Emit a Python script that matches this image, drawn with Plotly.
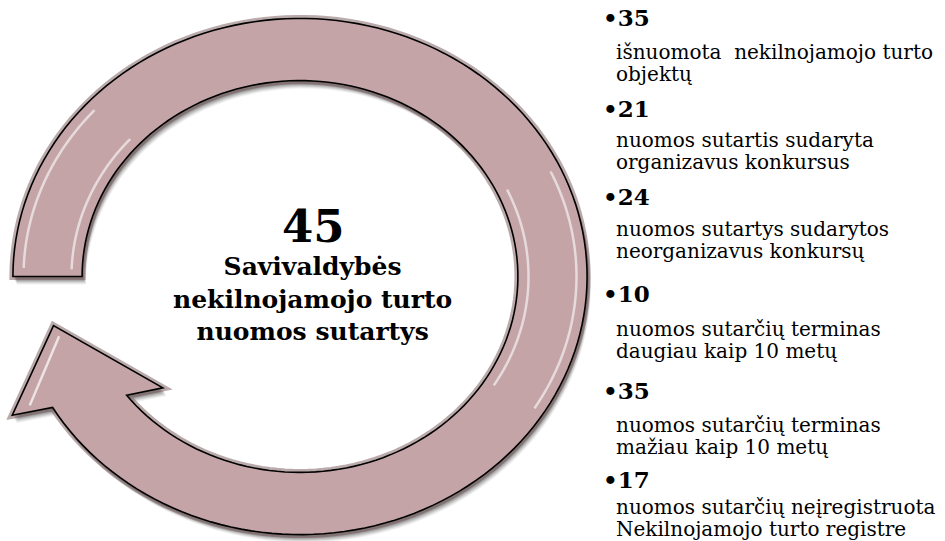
import numpy as np
import plotly.graph_objects as go

# ---------------- data ----------------
total_value = 45
center_lines = ["Savivaldybės", "nekilnojamojo turto", "nuomos sutartys"]
item_values = [35, 21, 24, 10, 35, 17]
item_labels = [
    ["išnuomota\u00a0 nekilnojamojo turto", "objektų"],
    ["nuomos sutartis sudaryta", "organizavus konkursus"],
    ["nuomos sutartys sudarytos", "neorganizavus konkursų"],
    ["nuomos sutarčių terminas", "daugiau kaip 10 metų"],
    ["nuomos sutarčių terminas", "mažiau kaip 10 metų"],
    ["nuomos sutarčių neįregistruota", "Nekilnojamojo turto registre"],
]

# ---------------- layout / style ----------------
W, H = 945, 541
CX, CY = 300.0, 276.5          # ring centre (px)
RX, RY = 252.5, 227.0          # mid-line radii (px)
K_OUT, K_IN = 1.137, 0.863     # outer / inner edge scale
FILL = "#C4A4A7"
SERIF = "DejaVu Serif"

def pt(scale, deg):
    t = np.deg2rad(deg)
    return CX + scale * RX * np.cos(t), CY + scale * RY * np.sin(t)

def arc(scale, a0, a1, n=160):
    a = np.linspace(a0, a1, n)
    return [pt(scale, d) for d in a]

# arrow outline (angles in degrees, screen coords, y downward)
T_TAIL = 180.0
outer = arc(K_OUT, T_TAIL, 509.5)
head = [pt(1.293, 511.8), pt(1.0, 527.5), pt(0.732, 497.9)]
inner = arc(K_IN, 502.7, T_TAIL)
poly = outer + head + inner

def to_path(points, dx=0.0, dy=0.0, close=True):
    s = "M " + " L ".join(f"{x+dx:.2f},{y+dy:.2f}" for x, y in points)
    return s + (" Z" if close else "")

shapes = []
# soft drop shadow
for off, op in [(8, 0.05), (7, 0.07), (6, 0.09), (5, 0.11), (4, 0.13), (3, 0.16)]:
    shapes.append(dict(type="path", path=to_path(poly, off * 0.5, off),
                       xref="x", yref="y", fillcolor=f"rgba(0,0,0,{op})",
                       line=dict(width=0), layer="below"))
# body with slightly darker rim
shapes.append(dict(type="path", path=to_path(poly), xref="x", yref="y",
                   fillcolor=FILL, line=dict(color="rgba(130,100,102,0.55)", width=7),
                   layer="below"))
shapes.append(dict(type="path", path=to_path(poly), xref="x", yref="y",
                   fillcolor=FILL, line=dict(width=0), layer="below"))
shapes.append(dict(type="path", path=to_path(poly), xref="x", yref="y",
                   fillcolor="rgba(0,0,0,0)", line=dict(color="black", width=1.6),
                   layer="below"))
# bevel highlights
for sc in (0.905, 1.095):
    for a0, a1 in [(335, 392), (182, 222)]:
        shapes.append(dict(type="path", path=to_path(arc(sc, a0, a1, 60), close=False),
                           xref="x", yref="y", line=dict(color="rgba(255,255,255,0.6)", width=2.5),
                           layer="below"))
hl = [pt(1.0, 525.0), pt(1.22, 512.5)]
shapes.append(dict(type="path", path=to_path(hl, 3, 1, close=False), xref="x", yref="y",
                   line=dict(color="rgba(255,255,255,0.7)", width=2.5), layer="below"))

annotations = []
# centre text
annotations.append(dict(x=313, y=226, xref="x", yref="y", text=f"<b>{total_value}</b>",
                        showarrow=False, font=dict(family=SERIF, size=45, color="black"),
                        xanchor="center", yanchor="middle"))
annotations.append(dict(x=312, y=299, xref="x", yref="y",
                        text="<br>".join(f"<b>{s}</b>" for s in center_lines),
                        showarrow=False, align="center",
                        font=dict(family=SERIF, size=25, color="black"),
                        xanchor="center", yanchor="middle"))

# right list
bullet_y = [17, 108, 196, 293, 390, 479]
desc_gap = [35, 32, 33, 36, 35, 28]
for v, lab, by, g in zip(item_values, item_labels, bullet_y, desc_gap):
    annotations.append(dict(x=601, y=by, xref="x", yref="y", text=f"<b>•{v}</b>",
                            showarrow=False, xanchor="left", yanchor="middle",
                            font=dict(family=SERIF, size=23, color="black")))
    for j, line in enumerate(lab):
        annotations.append(dict(x=614, y=by + g + 22 * j, xref="x", yref="y", text=line,
                                showarrow=False, xanchor="left", yanchor="middle",
                                font=dict(family=SERIF, size=20, color="black")))

fig = go.Figure()
fig.add_trace(go.Scatter(x=[0, W], y=[0, H], mode="markers",
                         marker=dict(opacity=0), hoverinfo="skip", showlegend=False))
fig.update_layout(
    width=W, height=H, margin=dict(l=0, r=0, t=0, b=0),
    paper_bgcolor="white", plot_bgcolor="white",
    xaxis=dict(range=[0, W], visible=False, fixedrange=True),
    yaxis=dict(range=[H, 0], visible=False, fixedrange=True),
    shapes=shapes, annotations=annotations, showlegend=False,
)
fig.write_html("out.html", config={"displayModeBar": False},
               post_script="document.body.style.margin='0';document.body.style.overflow='hidden';")
